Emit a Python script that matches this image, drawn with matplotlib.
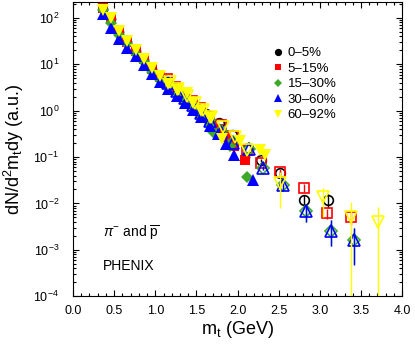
import matplotlib
matplotlib.use("Agg")
import matplotlib.pyplot as plt
from matplotlib.ticker import MultipleLocator, LogLocator, NullFormatter, FormatStrFormatter

plt.rcParams['font.family'] = ['Liberation Sans', 'DejaVu Sans']
plt.rcParams['mathtext.fontset'] = 'custom'
plt.rcParams['mathtext.rm'] = 'Liberation Sans'
plt.rcParams['mathtext.it'] = 'Liberation Sans:italic'

labels = ['0–5%', '5–15%', '15–30%', '30–60%', '60–92%']
colors = ['black', '#ff0000', '#3caa28', '#0000ff', '#ffff00']
markers = ['o', 's', 'D', '^', 'v']
msizes = [7, 6.5, 6, 8, 8]

# pions (filled markers)
pi_mt = [
    [0.36, 0.46, 0.56, 0.66, 0.76, 0.86, 0.96, 1.06, 1.16, 1.26, 1.36, 1.46, 1.56, 1.66, 1.76, 1.86, 1.96, 2.09],
    [0.36, 0.46, 0.56, 0.66, 0.76, 0.86, 0.96, 1.06, 1.16, 1.26, 1.36, 1.46, 1.56, 1.66, 1.76, 1.86, 1.96, 2.09],
    [0.36, 0.46, 0.56, 0.66, 0.76, 0.86, 0.96, 1.06, 1.16, 1.26, 1.36, 1.46, 1.56, 1.66, 1.70, 1.91, 2.12],
    [0.36, 0.46, 0.56, 0.66, 0.76, 0.86, 0.96, 1.06, 1.16, 1.26, 1.36, 1.46, 1.56, 1.66, 1.76, 1.86, 1.96, 2.19],
    [0.36, 0.46, 0.56, 0.66, 0.76, 0.86, 0.96, 1.06, 1.16, 1.26, 1.38, 1.46, 1.56, 1.66, 1.81, 2.03, 2.27, 2.33],
]
pi_val = [
    [160, 95, 50, 30, 19, 12.5, 7.8, 5.2, 3.6, 2.6, 1.8, 1.3, 0.92, 0.62, 0.42, 0.30, 0.21, 0.10],
    [165, 97, 52, 31, 19.5, 12.8, 8.0, 5.3, 3.7, 2.6, 1.8, 1.3, 0.90, 0.60, 0.40, 0.27, 0.17, 0.085],
    [150, 78, 44, 27, 17, 11, 7.0, 4.7, 3.3, 2.3, 1.6, 1.15, 0.80, 0.52, 0.35, 0.17, 0.037],
    [125, 62, 36, 23, 15, 9.8, 6.2, 4.2, 3.0, 2.1, 1.5, 1.05, 0.72, 0.47, 0.31, 0.19, 0.11, 0.032],
    [150, 100, 52, 32, 20, 13, 8.2, 5.5, 3.8, 2.8, 2.4, 1.5, 1.0, 0.7, 0.24, 0.22, 0.14, 0.11],
]

# antiprotons (open markers)
pb_mt = [
    [1.12, 1.22, 1.32, 1.42, 1.52, 1.62, 1.77, 1.93, 2.13, 2.29, 2.52, 2.81, 3.10],
    [1.14, 1.24, 1.34, 1.44, 1.54, 1.64, 1.80, 1.95, 2.12, 2.29, 2.52, 2.81, 3.09, 3.38],
    [1.15, 1.25, 1.35, 1.45, 1.55, 1.65, 1.80, 1.95, 2.14, 2.31, 2.55, 2.83, 3.13, 3.41],
    [1.16, 1.26, 1.36, 1.46, 1.56, 1.66, 1.80, 1.95, 2.14, 2.31, 2.55, 2.83, 3.13, 3.41],
    [1.18, 1.28, 1.38, 1.48, 1.58, 1.68, 1.82, 1.97, 2.11, 2.52, 3.04, 3.38, 3.71],
]
pb_val = [
    [4.6, 3.2, 2.2, 1.55, 1.1, 0.85, 0.55, 0.30, 0.16, 0.085, 0.045, 0.012, 0.012],
    [4.8, 3.3, 2.3, 1.6, 1.15, 0.74, 0.50, 0.28, 0.14, 0.075, 0.048, 0.022, 0.0062, 0.0050],
    [4.0, 2.8, 2.0, 1.35, 0.95, 0.62, 0.36, 0.21, 0.15, 0.058, 0.025, 0.007, 0.0026, 0.0016],
    [3.9, 2.7, 1.9, 1.3, 0.90, 0.60, 0.35, 0.20, 0.15, 0.058, 0.025, 0.007, 0.0026, 0.0016],
    [4.2, 3.0, 2.1, 1.5, 1.05, 0.72, 0.45, 0.27, 0.14, 0.028, 0.0135, 0.0050, 0.0039],
]
pb_err_lo = [
    [0, 0, 0, 0, 0, 0, 0, 0, 0, 0.005, 0.005, 0.003, 0.004],
    [0, 0, 0, 0, 0, 0, 0, 0, 0, 0.005, 0.006, 0.004, 0.0015, 0.0015],
    [0, 0, 0, 0, 0, 0, 0, 0, 0, 0.006, 0.006, 0.0031, 0.0014, 0.0011],
    [0, 0, 0, 0, 0, 0, 0, 0, 0, 0.006, 0.006, 0.0031, 0.0014, 0.00113],
    [0, 0, 0, 0, 0, 0, 0, 0, 0, 0.020, 0.0085, 0.00499, 0.00389],
]
pb_err_hi = [
    [0, 0, 0, 0, 0, 0, 0, 0, 0, 0.005, 0.005, 0.003, 0.004],
    [0, 0, 0, 0, 0, 0, 0, 0, 0, 0.005, 0.006, 0.004, 0.0015, 0.0015],
    [0, 0, 0, 0, 0, 0, 0, 0, 0, 0.006, 0.006, 0.0025, 0.0019, 0.0014],
    [0, 0, 0, 0, 0, 0, 0, 0, 0, 0.006, 0.006, 0.0025, 0.0019, 0.0014],
    [0, 0, 0, 0, 0, 0, 0, 0, 0, 0.020, 0.0085, 0.0057, 0.0044],
]

fig = plt.figure(figsize=(4.15, 3.53), dpi=100)
ax = fig.add_axes([0.176, 0.161, 0.793, 0.833])

for i in range(5):
    ax.errorbar(pb_mt[i], pb_val[i], yerr=[pb_err_lo[i], pb_err_hi[i]], fmt=markers[i],
                mfc='none', mec=colors[i], ms=msizes[i], mew=1.2, ecolor=colors[i],
                elinewidth=1, capsize=0, zorder=2 + i)
for i in range(5):
    ax.plot(pi_mt[i], pi_val[i], markers[i], color=colors[i], ms=msizes[i], mew=0,
            label=labels[i], zorder=3 + i)

ax.set_yscale('log')
ax.set_xlim(0, 4.0)
ax.set_ylim(1e-4, 2.2e2)
ax.xaxis.set_major_locator(MultipleLocator(0.5))
ax.xaxis.set_minor_locator(MultipleLocator(0.1))
ax.xaxis.set_major_formatter(FormatStrFormatter('%.1f'))
ax.yaxis.set_major_locator(LogLocator(base=10, numticks=10))
ax.yaxis.set_minor_locator(LogLocator(base=10, subs=range(2, 10), numticks=20))
ax.yaxis.set_minor_formatter(NullFormatter())
ax.tick_params(which='both', direction='in', top=True, right=True, width=0.8)
ax.tick_params(which='major', length=4, labelsize=9)
ax.tick_params(axis='y', which='major', pad=10)
ax.tick_params(axis='x', which='major', pad=6)
ax.tick_params(which='minor', length=2)
for s in ax.spines.values():
    s.set_linewidth(0.8)

ax.set_xlabel(r'm$\mathregular{_t}$ (GeV)', fontsize=13, labelpad=2)
ax.set_ylabel(r'dN/d$\mathregular{^2}$m$\mathregular{_t}$dy (a.u.)', fontsize=13, labelpad=5)

ax.legend(loc='upper left', bbox_to_anchor=(0.58, 0.87), frameon=False, fontsize=9.5,
          handletextpad=0.1, labelspacing=0.25, handlelength=1.2, borderpad=0,
          markerscale=0.75)

ax.text(0.09, 0.214, r'$\pi^{-}$ and $\overline{\mathregular{p}}$', transform=ax.transAxes,
        fontsize=10, ha='left', va='center')
ax.text(0.09, 0.102, 'PHENIX', transform=ax.transAxes, fontsize=10, ha='left', va='center')

fig.savefig('out.png', dpi=100)
